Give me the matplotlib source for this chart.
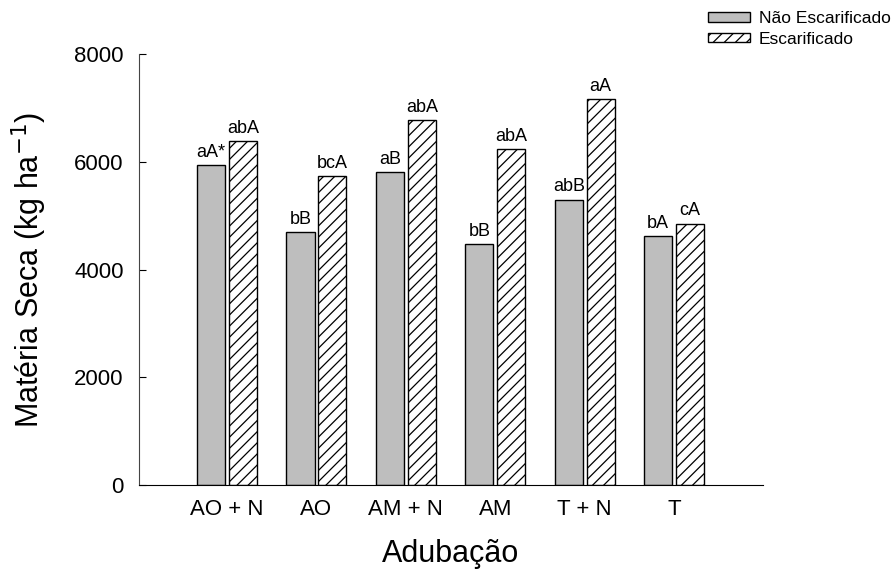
import numpy as np
import matplotlib
matplotlib.use("Agg")
import matplotlib.pyplot as plt

plt.rcParams['font.family'] = ['Liberation Sans', 'DejaVu Sans']
plt.rcParams['hatch.linewidth'] = 0.9

# dados
tratamentos = ["AO + N", "AO", "AM + N", "AM", "T + N", "T"]
nao_escarificado = [5940, 4690, 5810, 4480, 5300, 4620]
escarificado = [6385, 5730, 6775, 6235, 7160, 4855]
letras_nao = ["aA*", "bB", "aB", "bB", "abB", "bA"]
letras_esc = ["abA", "bcA", "abA", "abA", "aA", "cA"]

fig = plt.figure(figsize=(8.94, 5.70), dpi=100)
ax = fig.add_axes([0.1555, 0.149, 0.698, 0.756])

x = np.arange(len(tratamentos))
w = 0.315
off = 0.178

b1 = ax.bar(x - off, nao_escarificado, w, color='#bebebe', edgecolor='black',
            linewidth=1, label='Não Escarificado')
b2 = ax.bar(x + off, escarificado, w, color='white', edgecolor='black',
            linewidth=1, hatch='///', label='Escarificado')

# letras acima das barras
for xi, v, t in zip(x - off, nao_escarificado, letras_nao):
    ax.annotate(t, (xi, v), xytext=(0, 3), textcoords='offset points',
                ha='center', va='bottom', fontsize=13)
for xi, v, t in zip(x + off, escarificado, letras_esc):
    ax.annotate(t, (xi, v), xytext=(0, 3), textcoords='offset points',
                ha='center', va='bottom', fontsize=13)

ax.set_xlim(-0.985, 5.995)
ax.set_ylim(0, 8000)
ax.set_yticks([0, 2000, 4000, 6000, 8000])
ax.set_xticks(x)
ax.set_xticklabels(tratamentos, fontsize=16)
ax.tick_params(axis='x', length=0, pad=10)
ax.tick_params(axis='y', direction='in', length=5, labelsize=16, pad=11)

for s in ['top', 'right']:
    ax.spines[s].set_visible(False)
ax.spines['left'].set_color('#444444')

ax.set_xlabel('Adubação', fontsize=22, labelpad=14)
ax.set_ylabel('Matéria Seca (kg ha$^{-1}$)', fontsize=22, labelpad=18)

fig.legend(handles=[b1, b2], loc='upper right',
           bbox_to_anchor=(891 / 894, 1 - 11 / 570),
           frameon=False, fontsize=12.5, handlelength=2.4, handleheight=0.46,
           handletextpad=0.55, labelspacing=0.32, borderaxespad=0, borderpad=0)

fig.savefig('out.png', dpi=100)
